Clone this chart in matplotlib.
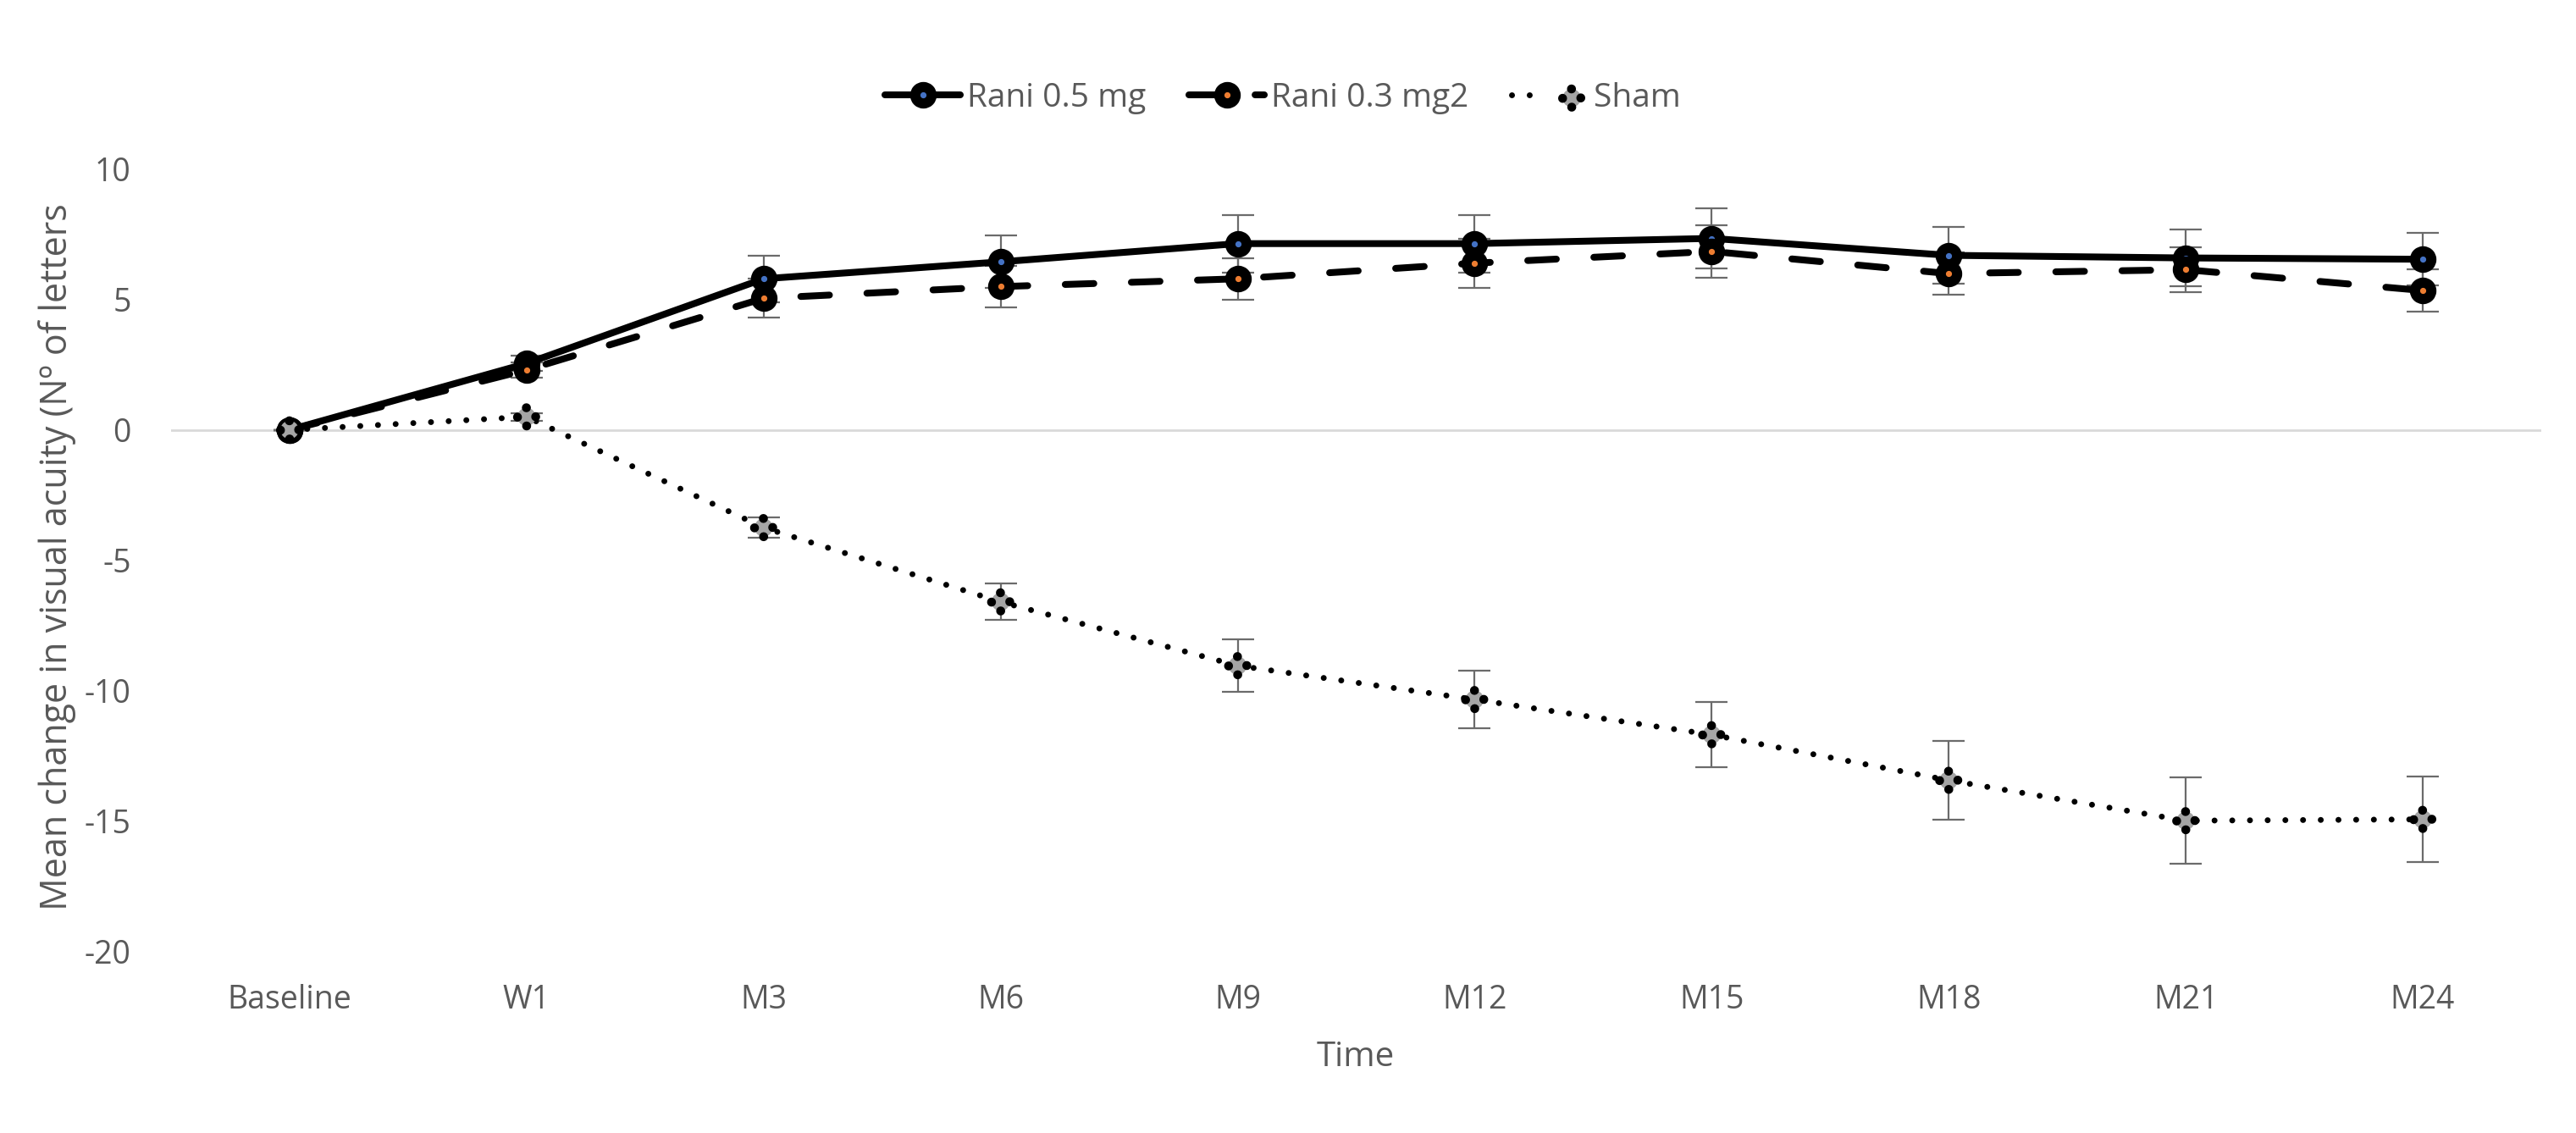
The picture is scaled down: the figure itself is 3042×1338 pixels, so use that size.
import numpy as np
import matplotlib
matplotlib.use("Agg")
import matplotlib.pyplot as plt
from matplotlib.lines import Line2D
from matplotlib.legend_handler import HandlerTuple, HandlerPathCollection

plt.rcParams['font.family'] = ['Open Sans', 'DejaVu Sans']
plt.rcParams['axes.unicode_minus'] = False

# data
time_points = ["Baseline", "W1", "M3", "M6", "M9", "M12", "M15", "M18", "M21", "M24"]
rani05 = [0, 2.55, 5.8, 6.45, 7.15, 7.15, 7.35, 6.7, 6.6, 6.55]
rani05_err = [0, 0.3, 0.9, 1.0, 1.1, 1.1, 1.15, 1.1, 1.1, 1.0]
rani03 = [0, 2.3, 5.05, 5.5, 5.8, 6.4, 6.85, 6.0, 6.15, 5.35]
rani03_err = [0, 0.3, 0.75, 0.8, 0.8, 0.95, 1.0, 0.8, 0.85, 0.8]
sham = [0, 0.5, -3.75, -6.6, -9.05, -10.35, -11.7, -13.45, -15.0, -14.95]
sham_err = [0, 0.15, 0.4, 0.7, 1.0, 1.1, 1.25, 1.5, 1.65, 1.65]

grey_txt = '#595959'
err_col = '#6b6b6b'

W, H = 3042, 1338
fig = plt.figure(figsize=(W / 200, H / 200), dpi=200)
ax = fig.add_axes([202 / W, 1 - 1123 / H, (3001 - 202) / W, (1123 - 200) / H])

x = np.arange(len(time_points))

# error bars first, under the markers
for vals, errs in [(rani05, rani05_err), (rani03, rani03_err), (sham, sham_err)]:
    ax.errorbar(x, vals, yerr=errs, fmt='none', ecolor=err_col, elinewidth=0.8,
                capsize=7, capthick=0.8, zorder=2)

l05, = ax.plot(x, rani05, color='black', lw=2.9, solid_capstyle='round',
               marker='o', ms=7, mew=4.3, mec='black', mfc='#4472C4', zorder=3)
l03, = ax.plot(x, rani03, color='black', lw=2.9, linestyle=(0, (4.2, 5.5)), dash_capstyle='round',
               marker='o', ms=7, mew=4.3, mec='black', mfc='#ED7D31', zorder=4)
lsh, = ax.plot(x, sham, color='black', lw=2.5, linestyle=(0, (0.01, 3.0)), dash_capstyle='round', zorder=5)
# sham marker: grey circle with a dotted black border
sc = ax.scatter(x, sham, s=60, marker='o', facecolor='#A5A5A5', edgecolor='black',
                linewidths=3.8, linestyle=(0, (0.01, 1.6)), zorder=6)
sc.set_capstyle('round')

ax.axhline(0, color='#d9d9d9', lw=1.0, zorder=1)

ax.set_xlim(-0.5, len(time_points) - 0.5)
ax.set_ylim(-20, 10)
ax.set_yticks(np.arange(-20, 11, 5))
ax.set_xticks(x)
ax.set_xticklabels(time_points)
ax.tick_params(axis='both', length=0, labelsize=13.5, labelcolor=grey_txt)
ax.tick_params(axis='x', pad=14)
ax.tick_params(axis='y', pad=17)
for s in ax.spines.values():
    s.set_visible(False)

fig.text(1601 / W, 1 - 1249 / H, "Time", ha='center', va='center', fontsize=14.5, color=grey_txt)
fig.text(68 / W, 1 - 658 / H, "Mean change in visual acuity (Nº of letters", ha='center', va='center',
         rotation=90, fontsize=15.5, color=grey_txt)


def round_caps(handle, orig):
    handle.update_from(orig)
    handle.set_capstyle('round')


sham_line = Line2D([], [], color='black', lw=2.5, linestyle=(0, (0.01, 3.0)), dash_capstyle='round')
fig.legend([l05, l03, (sham_line, sc)], ["Rani 0.5 mg", "Rani 0.3 mg2", "Sham"],
           handler_map={tuple: HandlerTuple(ndivide=None),
                        type(sc): HandlerPathCollection(update_func=round_caps)},
           loc='center', bbox_to_anchor=(1515 / W, 1 - 116 / H), ncol=3, frameon=False,
           fontsize=14, labelcolor=grey_txt, handlelength=2.3, handletextpad=0.2,
           columnspacing=1.3, scatterpoints=1)

fig.savefig("out.png", dpi=200, facecolor='white')
